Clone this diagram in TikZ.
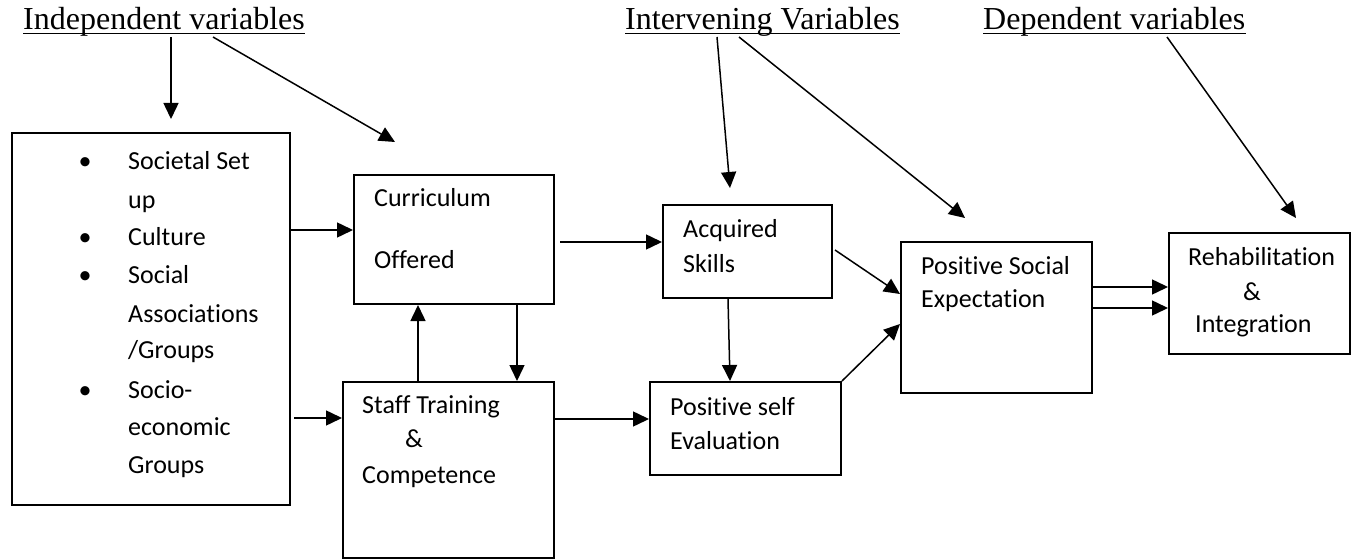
\documentclass[tikz,border=0pt]{standalone}
\usepackage{fontspec}
\setmainfont{Liberation Serif}
\newfontfamily\boxfont[Ligatures=NoCommon]{Carlito}
\usetikzlibrary{arrows.meta}
\begin{document}
\begin{tikzpicture}[x=1pt,y=-1pt,
  box/.style={draw, line width=2pt, inner sep=0pt, anchor=north west},
  arr/.style={line width=1.5pt, -{Triangle[length=16pt,width=15pt]}},
  title/.style={font=\fontsize{32}{36}\selectfont, anchor=base west, inner sep=0pt},
  txt/.style={font=\boxfont\fontsize{26}{30}\selectfont, anchor=base west, inner sep=0pt},
  ctxt/.style={txt, anchor=base},
  uline/.style={line width=1.4pt}]
\useasboundingbox (0,0) rectangle (1358,559);

% titles
\node[title] (tind) at (23,30) {Independent variables};
\node[title] (tint) at (625,30) {Intervening Variables};
\node[title] (tdep) at (983,30) {Dependent variables};
\foreach \t in {tind,tint,tdep}
  \draw[uline] ([yshift=-3.5pt]\t.base west) -- ([yshift=-3.5pt]\t.base east);

% boxes
\node[box, minimum width=278pt, minimum height=372pt] (left)  at (11,132)  {};
\node[box, minimum width=200pt, minimum height=129pt] (curr)  at (353,174) {};
\node[box, minimum width=211pt, minimum height=176pt] (staff) at (342,381) {};
\node[box, minimum width=169pt, minimum height=93pt]  (acq)   at (662,204) {};
\node[box, minimum width=191pt, minimum height=93pt]  (pself) at (649,381) {};
\node[box, minimum width=191pt, minimum height=151pt] (psoc)  at (900,241) {};
\node[box, minimum width=181pt, minimum height=121pt] (rehab) at (1168,232) {};

% left box text
\foreach \i/\y/\s in {1/170/{Societal Set}, 2/208/{up}, 3/245/{Culture}, 4/283/{Social},
    5/322/{Associations}, 6/358/{/Groups}, 7/398/{Socio-}, 8/435/{economic}, 9/473/{Groups}}
  \node[txt] (l\i) at (128,\y) {\s};
\foreach \i/\y in {1/170, 3/245, 4/283, 7/398}
  \node[ctxt] (b\i) at (85,\y) {•};

% other box texts
\node[txt] (curr1) at (374,207) {Curriculum};
\node[txt] (curr2) at (374,268) {Offered};
\node[txt] (staff1) at (362,413) {Staff Training};
\node[ctxt] (staff2) at (414,447) {\&};
\node[txt] (staff3) at (362,483) {Competence};
\node[txt] (acq1) at (683,237) {Acquired};
\node[txt] (acq2) at (683,272) {Skills};
\node[txt] (pself1) at (670,415) {Positive self};
\node[txt] (pself2) at (670,449) {Evaluation};
\node[txt] (psoc1) at (921,274) {Positive Social};
\node[txt] (psoc2) at (921,307) {Expectation};
\node[txt] (rehab1) at (1188,265) {Rehabilitation};
\node[ctxt] (rehab2) at (1252,300) {\&};
\node[txt] (rehab3) at (1195,332) {Integration};

% connectors from titles
\draw[arr] ([xshift=148pt,yshift=-7pt]tind.base west) -- ([xshift=160pt,yshift=13pt]left.north west);
\draw[arr] ([xshift=190pt,yshift=-7pt]tind.base west) -- ([xshift=42pt,yshift=32pt]curr.north west);
\draw[arr] ([xshift=92pt,yshift=-7pt]tint.base west) -- ([xshift=-17.5pt,yshift=16pt]acq.north);
\draw[arr] ([xshift=114pt,yshift=-7pt]tint.base west) -- ([xshift=65pt,yshift=23pt]psoc.north west);
\draw[arr] ([xshift=184pt,yshift=-7pt]tdep.base west) -- ([xshift=128pt,yshift=14pt]rehab.north west);

% connectors between boxes
\draw[arr] ([yshift=89pt]left.east) -- ([yshift=9.5pt]curr.west);
\draw[arr] ([xshift=3pt,yshift=-99pt]left.east) -- ([yshift=52pt]staff.west);
\draw[arr] ([xshift=-30.5pt]staff.north) -- ([xshift=-36pt]curr.south);
\draw[arr] ([xshift=63pt]curr.south) -- ([xshift=68.5pt]staff.north);
\draw[arr] ([xshift=5pt,yshift=-2.5pt]curr.east) -- ([yshift=9.5pt]acq.west);
\draw[arr] ([yshift=51pt]staff.east) -- ([yshift=9.5pt]pself.west);
\draw[arr] ([xshift=-19.5pt]acq.south) -- ([xshift=-15.5pt]pself.north);
\draw[arr] ([xshift=2pt,yshift=1.5pt]acq.east) -- ([yshift=23.5pt]psoc.west);
\draw[arr] (pself.north east) -- ([yshift=-6.5pt]psoc.west);
\draw[arr] ([yshift=30.5pt]psoc.east) -- ([yshift=6.5pt]rehab.west);
\draw[arr] ([yshift=9.5pt]psoc.east) -- ([yshift=-14.5pt]rehab.west);
\end{tikzpicture}
\end{document}
